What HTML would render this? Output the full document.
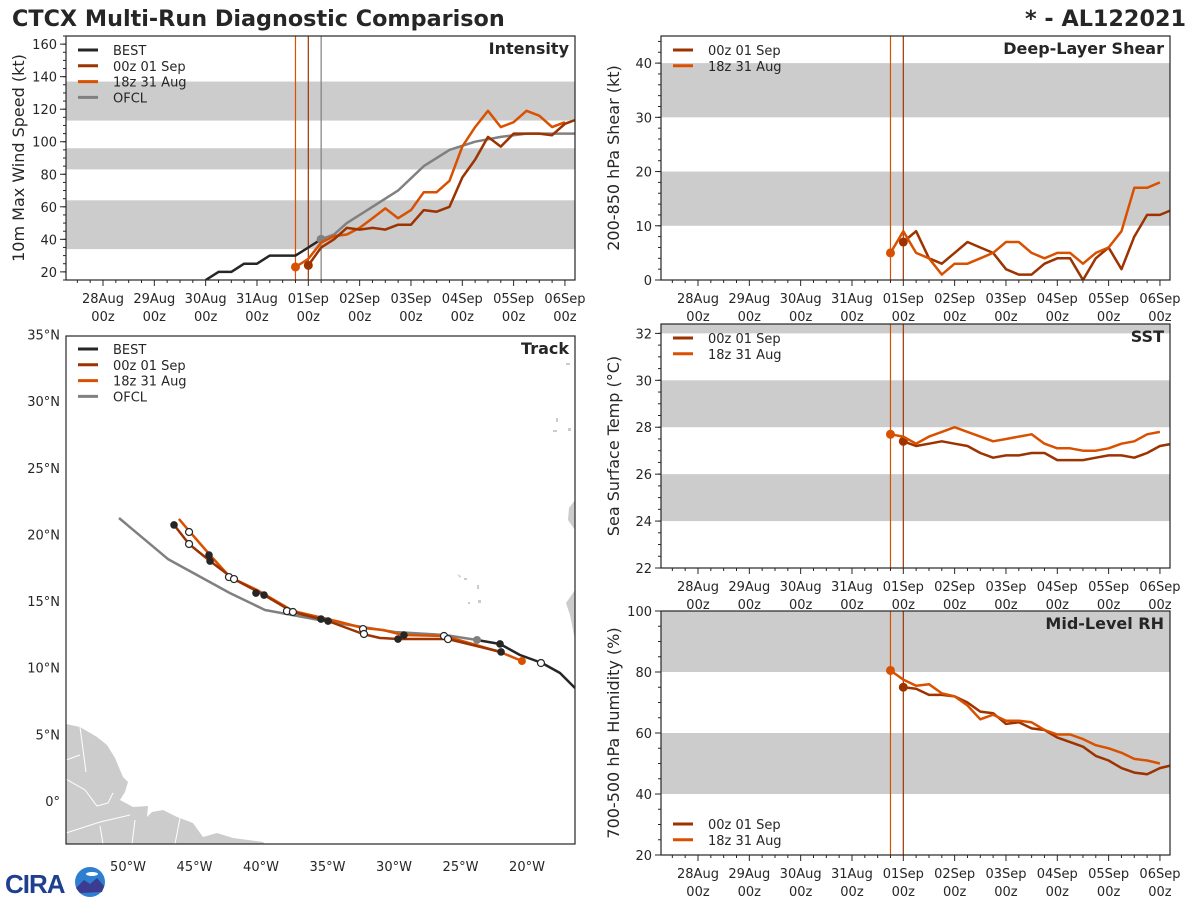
<!DOCTYPE html>
<html><head><meta charset="utf-8">
<style>
html,body{margin:0;padding:0;background:#fff;}
svg{display:block;font-family:"DejaVu Sans","Liberation Sans",sans-serif;}
</style></head>
<body>
<svg id="fig" width="1200" height="900" viewBox="0 0 1200 900" xmlns="http://www.w3.org/2000/svg">
<rect width="1200" height="900" fill="#fff"/>
<text x="12" y="26" font-size="22.3" font-weight="bold" fill="#262626">CTCX Multi-Run Diagnostic Comparison</text>
<text x="1186" y="26" font-size="22.3" font-weight="bold" fill="#262626" text-anchor="end">* - AL122021</text>
<g id="logo">
<text x="5" y="893" font-size="26" font-weight="bold" fill="#1f3f8f" font-family="Liberation Sans, sans-serif" letter-spacing="-1">CIRA</text>
<circle cx="90" cy="882" r="15" fill="#2f7fd0"/>
<path d="M76 888 L84 880 L90 884 L97 878 L104 886 L102 892 L80 893 Z" fill="#3b3b8f"/>
<ellipse cx="92" cy="874" rx="6" ry="2" fill="#fff"/>
</g>
<g id="plots"></g>
</svg>
<script>
// ---- time axis (hours since 28Aug 00z) ----
var dayLabels = ["28Aug","29Aug","30Aug","31Aug","01Sep","02Sep","03Sep","04Sep","05Sep","06Sep"];
// ---- Intensity (kt) ----
var bestT = [48,54,60,66,72,78,84,90,96,102];
var bestV = [15,20,20,25,25,30,30,30,35,40];
var run00T = [96,102,108,114,120,126,132,138,144,150,156,162,168,174,180,186,192,198,204,210,216,222];
var run18T = [90,96,102,108,114,120,126,132,138,144,150,156,162,168,174,180,186,192,198,204,210,216];
var int00 = [24,35,40,47,46,47,46,49,49,58,57,60,78,89,103,97,105,105,105,104,111,114];
var int18 = [23,28,38,42,43,47,53,59,53,58,69,69,76,97,109,119,109,112,119,116,109,112];
var ofclT = [102,108,114,126,138,150,162,174,186,198,222];
var ofclV = [40,43,50,60,70,85,95,100,103,105,105];
// ---- Shear (kt) ----
var shr00 = [7,9,4,3,5,7,6,5,2,1,1,3,4,4,0,4,6,2,8,12,12,13];
var shr18 = [5,9,5,4,1,3,3,4,5,7,7,5,4,5,5,3,5,6,9,17,17,18];
// ---- SST (C) ----
var sst00 = [27.4,27.2,27.3,27.4,27.3,27.2,26.9,26.7,26.8,26.8,26.9,26.9,26.6,26.6,26.6,26.7,26.8,26.8,26.7,26.9,27.2,27.3];
var sst18 = [27.7,27.6,27.3,27.6,27.8,28.0,27.8,27.6,27.4,27.5,27.6,27.7,27.3,27.1,27.1,27.0,27.0,27.1,27.3,27.4,27.7,27.8];
// ---- RH (%) ----
var rh00 = [75,74.5,72.5,72.5,72,70,67,66.5,63,63.5,61.5,61,58.5,57,55.5,52.5,51,48.5,47,46.5,48.5,49.5];
var rh18 = [80.5,77.5,75.5,76,73,72,69,64.5,66,64,64,63.5,61,59.5,59.5,58,56,55,53.5,51.5,51,50];
// ---- Track (lon, lat) ----
var bestLon = [-16.39,-17.52,-18.87,-20.53,-22.03,-23.76];
var bestLat = [8.48,9.6,10.35,10.95,11.78,12.08];
var ofclLon = [-23.76,-26.17,-29.93,-34.81,-39.7,-42.33,-46.99,-50.68];
var ofclLat = [12.08,12.45,12.68,13.43,14.33,15.6,18.15,21.23];
var trk00Lon = [-21.95,-25.94,-29.7,-31.05,-32.33,-34.96,-37.6,-39.77,-42.03,-43.83,-45.41,-46.47];
var trk00Lat = [11.18,12.15,12.15,12.23,12.53,13.5,14.18,15.45,16.65,18.0,19.28,20.63];
var trk18Lon = [-20.38,-22.03,-26.17,-29.32,-30.83,-32.33,-34.06,-37.6,-40.3,-42.33,-43.83,-45.34,-46.17];
var trk18Lat = [10.5,11.18,12.38,12.45,12.83,12.98,13.43,14.25,15.83,16.8,18.45,20.18,21.16];
var fillLon = [-46.54,-43.91,-43.83,-40.38,-39.77,-35.49,-34.96,-29.25,-29.7,-22.03,-21.95];
var fillLat = [20.71,18.45,18.0,15.6,15.45,13.65,13.5,12.45,12.15,11.78,11.18];
var openLon = [-45.41,-45.41,-42.41,-42.03,-38.05,-37.6,-32.33,-32.26,-26.24,-25.94,-18.95];
var openLat = [20.18,19.28,16.8,16.65,14.25,14.18,12.9,12.53,12.38,12.15,10.35];
var latTicks = [35,30,25,20,15,10,5,0];
var lonTicks = [-50,-45,-40,-35,-30,-25,-20];

var C00 = "#9c3300", C18 = "#d95100", CB = "#262626", CO = "#808080", BAND = "#cccccc";
var NS = "http://www.w3.org/2000/svg";
var root = document.getElementById("plots");
function mk(tag, attrs, parent) {
  var e = document.createElementNS(NS, tag);
  for (var k in attrs) e.setAttribute(k, attrs[k]);
  (parent || root).appendChild(e);
  return e;
}
function txt(s, attrs, parent) { var e = mk("text", attrs, parent); e.textContent = s; return e; }

var TMIN = -17.3, TMAX = 220.7;
function timePanel(cfg) {
  var g = mk("g", {});
  
  
  var L = cfg.x, T = cfg.y, W = 509, H = 244;
  var xs = function (t) { return L + (t - TMIN) / (TMAX - TMIN) * W; };
  var ys = function (v) { return T + H - (v - cfg.ymin) / (cfg.ymax - cfg.ymin) * H; };
  var cp = mk("clipPath", { id: "cp-" + cfg.name }, g);
  mk("rect", { x: L, y: T, width: W, height: H }, cp);
  var inner = mk("g", { "clip-path": "url(#cp-" + cfg.name + ")" }, g);
  cfg.bands.forEach(function (b) {
    var r = mk("rect", { x: L, y: ys(b[1]), width: W, height: ys(b[0]) - ys(b[1]), fill: BAND }, inner);
    
    
  });
  cfg.vlines.forEach(function (v) {
    var l = mk("line", { x1: xs(v[0]), x2: xs(v[0]), y1: T, y2: T + H, stroke: v[1], "stroke-width": 1.2 }, inner);
    
    
  });
  cfg.series.forEach(function (s) {
    var pts = s.t.map(function (t, i) { return xs(t).toFixed(1) + "," + ys(s.v[i]).toFixed(1); }).join(" ");
    var p = mk("polyline", { points: pts, fill: "none", stroke: s.c, "stroke-width": 2.5, "stroke-linejoin": "round" }, inner);
    
    
    if (s.dot) {
      var d = mk("circle", { cx: xs(s.t[0]), cy: ys(s.v[0]), r: 4.5, fill: s.c }, inner);
      
      
    }
  });
  mk("rect", { x: L, y: T, width: W, height: H, fill: "none", stroke: "#262626", "stroke-width": 1.2 }, g);
  for (var h = -12; h <= 219; h += 6) {
    var major = h % 24 === 0;
    mk("line", { x1: xs(h), x2: xs(h), y1: T + H, y2: T + H + (major ? 6 : 3), stroke: "#262626", "stroke-width": 1 }, g);
  }
  dayLabels.forEach(function (d, i) {
    var xx = xs(i * 24);
    var a = txt(d, { x: xx, y: T + H + 23, "font-size": 13, "text-anchor": "middle", fill: "#262626" }, g);
    
    
    var b = txt("00z", { x: xx, y: T + H + 41, "font-size": 13, "text-anchor": "middle", fill: "#262626" }, g);
    
    
  });
  cfg.yticks.forEach(function (v) {
    mk("line", { x1: L - 6, x2: L, y1: ys(v), y2: ys(v), stroke: "#262626" }, g);
    var a = txt(String(v), { x: L - 9, y: ys(v) + 5, "font-size": 13, "text-anchor": "end", fill: "#262626" }, g);
    
    
  });
  for (var m = cfg.ymin; m <= cfg.ymax; m += cfg.minor) {
    var mv = Math.round(m * 100) / 100;
    if (mv < cfg.ymin || mv > cfg.ymax) continue;
    mk("line", { x1: L - 3, x2: L, y1: ys(mv), y2: ys(mv), stroke: "#262626" }, g);
  }
  var yl = txt(cfg.ylabel, { x: 0, y: 0, "font-size": 16, "text-anchor": "middle", fill: "#262626", transform: "translate(" + (L - 42) + "," + (T + H / 2) + ") rotate(-90)" }, g);
  
  
  var tt = txt(cfg.title, { x: L + W - 6, y: T + 18, "font-size": 16, "font-weight": "bold", "text-anchor": "end", fill: "#262626" }, g);
  
  
  legend(g, L + 12, cfg.legY, cfg.legend);
}
function legend(g, x, y, items) {
  items.forEach(function (it, i) {
    var yy = y + i * 15.8;
    var l = mk("line", { x1: x, x2: x + 20, y1: yy, y2: yy, stroke: it[1], "stroke-width": 3 }, g);
    
    
    var t = txt(it[0], { x: x + 35, y: yy + 5, "font-size": 13, fill: "#262626" }, g);
    
    
  });
}
var runLeg = [["00z 01 Sep", C00], ["18z 31 Aug", C18]];
var allLeg = [["BEST", CB], ["00z 01 Sep", C00], ["18z 31 Aug", C18], ["OFCL", CO]];

timePanel({ name: "intensity", x: 66, y: 36, ymin: 15, ymax: 165, yticks: [20,40,60,80,100,120,140,160], minor: 5,
  bands: [[34,64],[83,96],[113,137]], vlines: [[90,C18],[96,C00],[102,CO]],
  series: [{ n: "best", t: bestT, v: bestV, c: CB },
           { n: "ofcl", t: ofclT, v: ofclV, c: CO, dot: true },
           { n: "run-18z", t: run18T, v: int18, c: C18, dot: true },
           { n: "run-00z", t: run00T, v: int00, c: C00, dot: true }],
  ylabel: "10m Max Wind Speed (kt)", title: "Intensity", legY: 50, legend: allLeg });
timePanel({ name: "shear", x: 661, y: 36, ymin: 0, ymax: 45, yticks: [0,10,20,30,40], minor: 2,
  bands: [[10,20],[30,40]], vlines: [[90,C18],[96,C00]],
  series: [{ n: "run-00z", t: run00T, v: shr00, c: C00, dot: true },
           { n: "run-18z", t: run18T, v: shr18, c: C18, dot: true }],
  ylabel: "200-850 hPa Shear (kt)", title: "Deep-Layer Shear", legY: 50, legend: runLeg });
timePanel({ name: "sst", x: 661, y: 324, ymin: 22, ymax: 32.4, yticks: [22,24,26,28,30,32], minor: 0.5,
  bands: [[24,26],[28,30],[32,34]], vlines: [[90,C18],[96,C00]],
  series: [{ n: "run-00z", t: run00T, v: sst00, c: C00, dot: true },
           { n: "run-18z", t: run18T, v: sst18, c: C18, dot: true }],
  ylabel: "Sea Surface Temp (°C)", title: "SST", legY: 338, legend: runLeg });
timePanel({ name: "rh", x: 661, y: 611, ymin: 20, ymax: 100, yticks: [20,40,60,80,100], minor: 5,
  bands: [[40,60],[80,100]], vlines: [[90,C18],[96,C00]],
  series: [{ n: "run-00z", t: run00T, v: rh00, c: C00, dot: true },
           { n: "run-18z", t: run18T, v: rh18, c: C18, dot: true }],
  ylabel: "700-500 hPa Humidity (%)", title: "Mid-Level RH", legY: 824, legend: runLeg });

// ---- Track panel ----
(function () {
  var g = mk("g", {});
  
  
  var L = 66, T = 336, W = 509, H = 508;
  var lx = function (lon) { return 128 + (lon + 50) * 13.3; };
  var ly = function (lat) { return 801 - lat * 13.33; };
  var cp = mk("clipPath", { id: "cp-track" }, g);
  mk("rect", { x: L, y: T, width: W, height: H }, cp);
  var inner = mk("g", { "clip-path": "url(#cp-track)" }, g);
  var land = mk("path", { d: "M66 724 L80 727 L97 737 L107 745 L115 758 L123 777 L128 782 L125 792 L120 800 L133 807 L148 806 L147 817 L152 812 L163 810 L177 817 L193 823 L203 837 L217 833 L233 838 L263 842 L267 846 L66 846 Z", fill: BAND }, inner);
  
  
  var rivers = mk("path", { d: "M66 779 L85 790 L97 806 L108 803 L113 793 M66 760 L80 755 M80 727 L86 772 M66 833 L100 822 L130 815 M100 826 L103 844 M135 820 L132 844 M180 818 L175 844", fill: "none", stroke: "#fff", "stroke-width": 1 }, inner);
  
  
  var isl = mk("path", { d: "M575 500 L569 508 L568 520 L575 530 Z M575 590 L566 603 L570 615 L575 640 Z M566 363 l4 0 l0 2 l-4 0 Z M556 418 l2 0 l0 4 l-2 0 Z M553 430 l4 0 l0 2 l-4 0 Z M568 428 l3 0 l0 3 l-3 0 Z M457 574 l4 2 l-1 2 Z M464 578 l3 0 l0 2 l-3 0 Z M477 585 l2 0 l0 4 l-2 0 Z M468 602 l2 0 l0 2 l-2 0 Z M478 600 l3 0 l0 3 l-3 0 Z", fill: BAND }, inner);
  
  
  function trk(lons, lats, c, n) {
    var pts = lons.map(function (lo, i) { return lx(lo).toFixed(1) + "," + ly(lats[i]).toFixed(1); }).join(" ");
    var p = mk("polyline", { points: pts, fill: "none", stroke: c, "stroke-width": 2.5, "stroke-linejoin": "round" }, inner);
    
    
  }
  trk(ofclLon, ofclLat, CO, "ofcl");
  trk(bestLon, bestLat, CB, "best");
  trk(trk18Lon, trk18Lat, C18, "run-18z");
  trk(trk00Lon, trk00Lat, C00, "run-00z");
  fillLon.forEach(function (lo, i) {
    var c = mk("circle", { cx: lx(lo), cy: ly(fillLat[i]), r: 3.8, fill: CB }, inner);
    
    
  });
  openLon.forEach(function (lo, i) {
    var c = mk("circle", { cx: lx(lo), cy: ly(openLat[i]), r: 3.5, fill: "#fff", stroke: CB, "stroke-width": 1.2 }, inner);
    
    
  });
  var od = mk("circle", { cx: lx(ofclLon[0]), cy: ly(ofclLat[0]), r: 4, fill: CO }, inner);
  
  
  var rd = mk("circle", { cx: lx(trk18Lon[0]), cy: ly(trk18Lat[0]), r: 4, fill: C18 }, inner);
  
  
  mk("rect", { x: L, y: T, width: W, height: H, fill: "none", stroke: "#262626", "stroke-width": 1.2 }, g);
  latTicks.forEach(function (v) {
    var a = txt(v === 0 ? "0°" : v + "°N", { x: L - 6, y: ly(v) + 5, "font-size": 13, "text-anchor": "end", fill: "#262626" }, g);
    
    
  });
  lonTicks.forEach(function (v) {
    var a = txt((-v) + "°W", { x: lx(v), y: 871, "font-size": 13, "text-anchor": "middle", fill: "#262626" }, g);
    
    
  });
  var tt = txt("Track", { x: L + W - 6, y: T + 18, "font-size": 16, "font-weight": "bold", "text-anchor": "end", fill: "#262626" }, g);
  
  
  legend(g, L + 12, 349, allLeg);
})();
</script>
</body></html>
